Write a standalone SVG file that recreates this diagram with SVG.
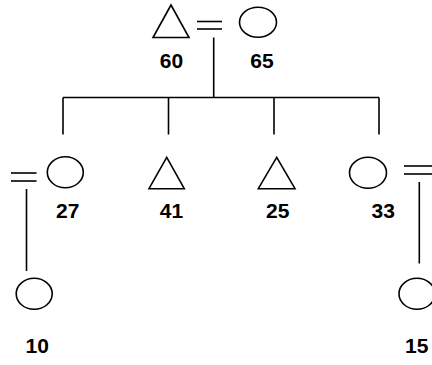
<svg xmlns="http://www.w3.org/2000/svg" width="432" height="365" viewBox="0 0 432 365">
<style>
.s{fill:none;stroke:#000;stroke-width:1.6}
.t{font-family:"Liberation Sans",Arial,sans-serif;font-weight:bold;font-size:21px;fill:#000;text-anchor:middle}
</style>
<rect width="432" height="365" fill="#fff"/>
<g id="connectors" class="s">
<line x1="197" y1="21.5" x2="222" y2="21.5"/>
<line x1="197" y1="29" x2="222" y2="29"/>
<line x1="213.7" y1="37.5" x2="213.7" y2="97.5"/>
<line x1="63" y1="97.5" x2="379" y2="97.5"/>
<line x1="63" y1="97.5" x2="63" y2="134.5"/>
<line x1="168.5" y1="97.5" x2="168.5" y2="134.5"/>
<line x1="274" y1="97.5" x2="274" y2="134.5"/>
<line x1="379" y1="97.5" x2="379" y2="134.5"/>
<line x1="11" y1="173" x2="36.5" y2="173"/>
<line x1="11" y1="181" x2="36.5" y2="181"/>
<line x1="26.5" y1="189" x2="26.5" y2="271"/>
<line x1="404" y1="166" x2="432" y2="166"/>
<line x1="404" y1="174" x2="432" y2="174"/>
<line x1="419.3" y1="182" x2="419.3" y2="263.5"/>
</g>
<g id="n60"><polygon class="s" points="171,5 153,37.5 189,37.5"/><text class="t" x="171.5" y="68">60</text></g>
<g id="n65"><ellipse class="s" cx="258" cy="22.3" rx="18.5" ry="15"/><text class="t" x="262" y="68">65</text></g>
<g id="n27"><ellipse class="s" cx="65.3" cy="172.3" rx="18" ry="15.5"/><text class="t" x="67.8" y="218.3">27</text></g>
<g id="n41"><polygon class="s" points="166.7,157.3 149,188.7 184.3,188.7"/><text class="t" x="171.5" y="218.3">41</text></g>
<g id="n25"><polygon class="s" points="276.7,157.3 258.3,188.7 295,188.7"/><text class="t" x="277.7" y="218.3">25</text></g>
<g id="n33"><ellipse class="s" cx="368" cy="172.8" rx="18.5" ry="15.5"/><text class="t" x="383.3" y="218.3">33</text></g>
<g id="n10"><ellipse class="s" cx="34.2" cy="293.8" rx="18" ry="15.5"/><text class="t" x="37.2" y="353.3">10</text></g>
<g id="n15"><ellipse class="s" cx="417" cy="293.8" rx="18" ry="15.5"/><text class="t" x="416.7" y="353.3">15</text></g>
</svg>
